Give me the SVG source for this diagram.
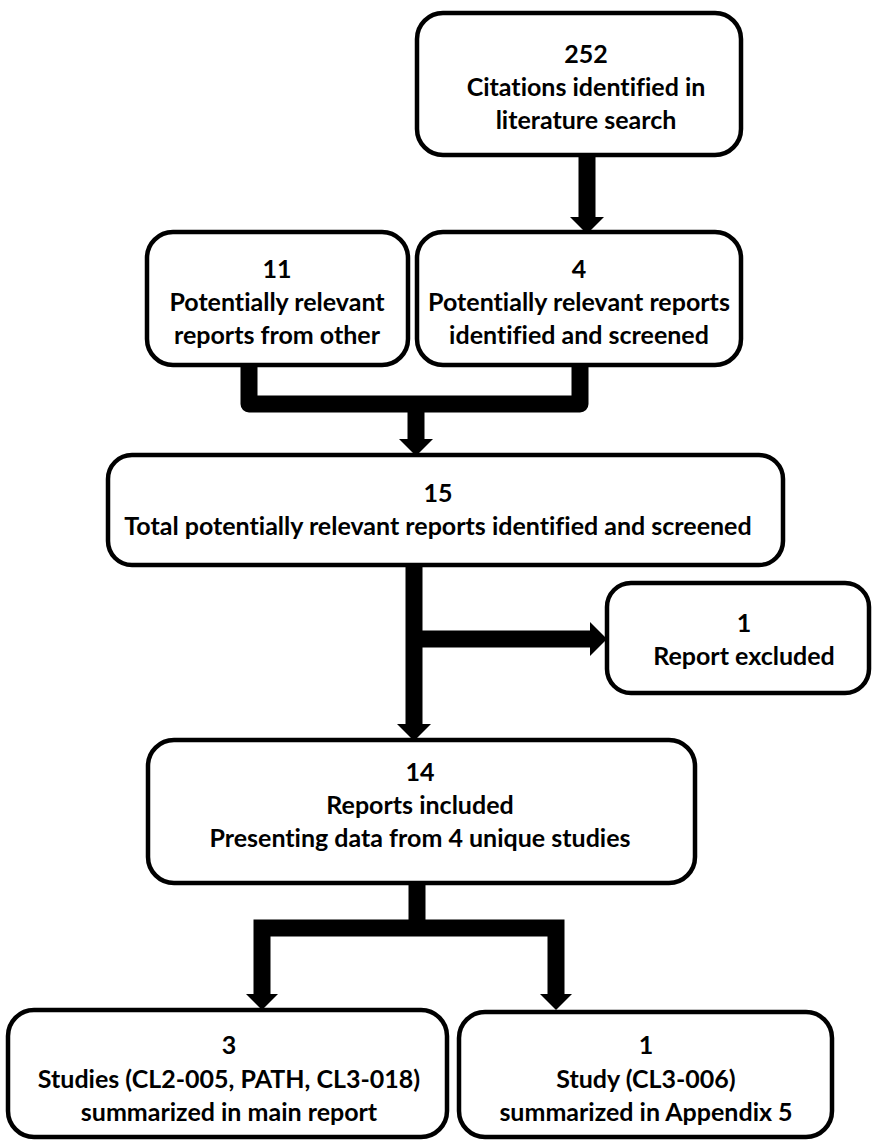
<svg xmlns="http://www.w3.org/2000/svg" width="872" height="1141" viewBox="0 0 872 1141">
<style>
.box{fill:#fff;stroke:#000;stroke-width:4.5}
.t{font-family:Lato,"Liberation Sans",sans-serif;font-weight:bold;font-size:25px;fill:#000;text-anchor:middle;font-variant-ligatures:none}
.c{fill:none;stroke:#000;stroke-width:17}
</style>
<defs>
<marker id="ah" markerUnits="userSpaceOnUse" markerWidth="20" markerHeight="36" refX="0" refY="17" orient="auto" overflow="visible">
<path d="M0 0 L17 17 L0 34 Z" fill="#000"/>
</marker>
</defs>
<rect width="872" height="1141" fill="#fff"/>
<g id="connectors">
<path class="c" d="M587 155 V217" marker-end="url(#ah)"/>
<path class="c" d="M249 365 V404 H580 V365" stroke-linejoin="round"/>
<path class="c" d="M416 404 V439" marker-end="url(#ah)"/>
<path class="c" d="M414 565 V724" marker-end="url(#ah)"/>
<path class="c" d="M414 639 H590" marker-end="url(#ah)"/>
<path class="c" d="M417 883 V928"/>
<path class="c" d="M262 994 V928 H556 V994" stroke-width="18"/>
<polygon points="246,994 278,994 262,1010" fill="#000"/>
<polygon points="540,994 572,994 556,1010" fill="#000"/>
</g>
<g id="n252">
<rect class="box" x="417" y="13" width="324" height="142" rx="26"/>
<text class="t" x="586" y="63">252</text>
<text class="t" x="586" y="96">Citations identified in</text>
<text class="t" x="586" y="129">literature search</text>
</g>
<g id="n11">
<rect class="box" x="147" y="232" width="261" height="133" rx="26"/>
<text class="t" x="277" y="278">11</text>
<text class="t" x="277" y="311">Potentially relevant</text>
<text class="t" x="277" y="344">reports from other</text>
</g>
<g id="n4">
<rect class="box" x="417" y="232" width="324" height="133" rx="26"/>
<text class="t" x="579" y="278">4</text>
<text class="t" x="579" y="311">Potentially relevant reports</text>
<text class="t" x="579" y="344">identified and screened</text>
</g>
<g id="n15">
<rect class="box" x="108" y="455" width="675" height="110" rx="24"/>
<text class="t" x="438" y="502">15</text>
<text class="t" x="438" y="535">Total potentially relevant reports identified and screened</text>
</g>
<g id="nexcl">
<rect class="box" x="607" y="583" width="262" height="110" rx="24"/>
<text class="t" x="744" y="632">1</text>
<text class="t" x="744" y="665">Report excluded</text>
</g>
<g id="n14">
<rect class="box" x="148" y="740" width="547" height="143" rx="26"/>
<text class="t" x="420" y="781">14</text>
<text class="t" x="420" y="814">Reports included</text>
<text class="t" x="420" y="847">Presenting data from 4 unique studies</text>
</g>
<g id="n3">
<rect class="box" x="8" y="1010" width="439" height="127" rx="26"/>
<text class="t" x="229" y="1054">3</text>
<text class="t" x="229" y="1088">Studies (CL2-005, PATH, CL3-018)</text>
<text class="t" x="229" y="1121">summarized in main report</text>
</g>
<g id="n1">
<rect class="box" x="459" y="1012" width="373" height="125" rx="26"/>
<text class="t" x="646" y="1054">1</text>
<text class="t" x="646" y="1088">Study (CL3-006)</text>
<text class="t" x="646" y="1121">summarized in Appendix 5</text>
</g>
</svg>
